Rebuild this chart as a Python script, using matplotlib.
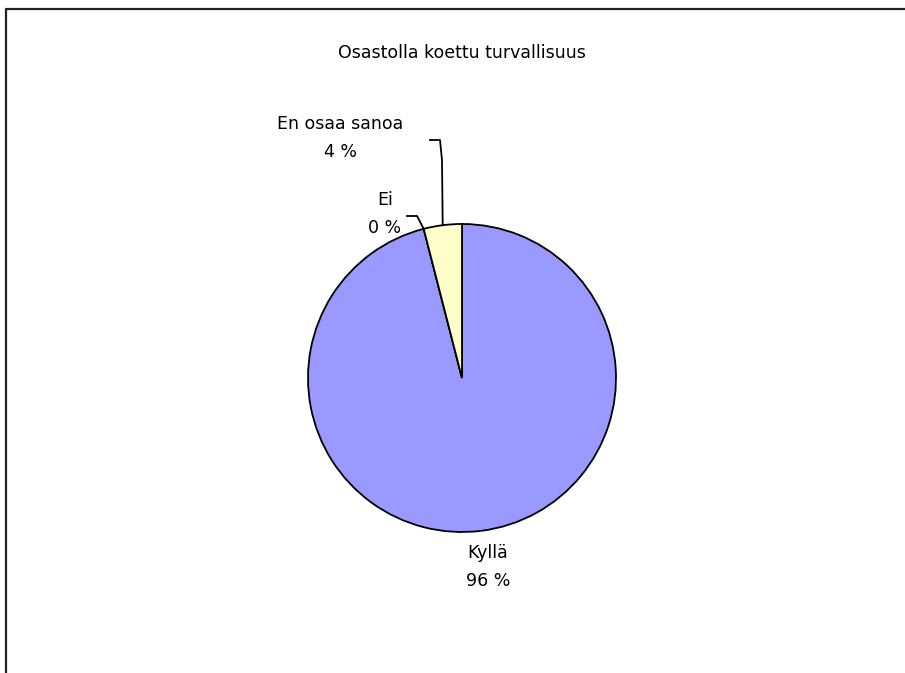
import matplotlib.pyplot as plt
import numpy as np

plt.rcParams['font.family'] = ['DejaVu Sans']

# Survey answers, share of respondents (%)
title = "Osastolla koettu turvallisuus"
answers = ["Kyllä", "Ei", "En osaa sanoa"]
shares = [96, 0, 4]
colors = ["#9999FF", "#99CCFF", "#FFFFCC"]

W, H = 905, 673
fig = plt.figure(figsize=(W / 100, H / 100), dpi=100)
ax = fig.add_axes([0, 0, 1, 1])

cx, cy, r = 462, H - 378, 154
wedges, _ = ax.pie(shares, colors=colors, startangle=90, counterclock=False,
                   center=(cx, cy), radius=r, frame=True,
                   wedgeprops=dict(edgecolor='black', linewidth=1.3))
ax.set_xlim(0, W)
ax.set_ylim(0, H)
ax.set_aspect('equal')
ax.axis('off')

# chart area border (runs off the right and bottom edges)
ax.plot([6, 6, W + 5], [-5, H - 9, H - 9], color='#222222', lw=1.6, solid_capstyle='butt')

ax.text(cx, H - 53, title, ha='center', va='center', fontsize=12.5)

# label placement: (text x, text y, leader-line bend points)
label_pos = {
    "Kyllä": (488, 567, None),
    "Ei": (385, 214, [(407, 216), (417, 216)]),
    "En osaa sanoa": (340, 138, [(430, 140), (440, 140), (442, 160)]),
}

for w, name, val in zip(wedges, answers, shares):
    tx, ty, bends = label_pos[name]
    ax.text(tx, H - ty, f"{name}\n{val} %", ha='center', va='center',
            fontsize=12.5, linespacing=1.65)
    if bends:
        ang = np.deg2rad((w.theta1 + w.theta2) / 2)
        ex, ey = cx + r * np.cos(ang), cy + r * np.sin(ang)
        xs = [p[0] for p in bends] + [ex]
        ys = [H - p[1] for p in bends] + [ey]
        ax.plot(xs, ys, color='black', lw=1.3)

fig.savefig("out.png", dpi=100)
